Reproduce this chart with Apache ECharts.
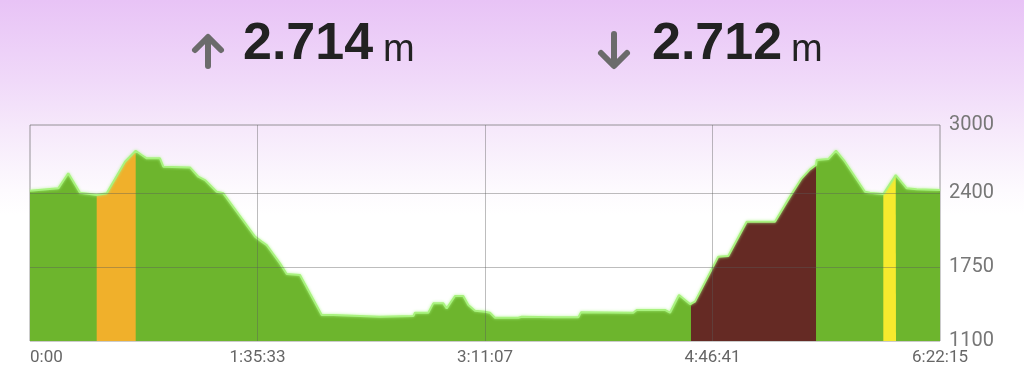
<!DOCTYPE html>
<html>
<head>
<meta charset="utf-8">
<script src="https://cdn.jsdelivr.net/npm/echarts@6/dist/echarts.min.js"></script>
<style>
html,body{margin:0;padding:0;width:1024px;height:376px;overflow:hidden;
background:linear-gradient(to bottom,#e8c3f6 0px,#f0d9f9 80px,#f6e9fb 130px,#fdfafe 190px,#ffffff 215px,#ffffff 376px);}
#c{width:1024px;height:376px;}
</style>
</head>
<body>
<div id="c"></div>
<script>
// ---- data ----
var timeSec = [0,713,965,1260,1462,1681,1933,2394,2664,2815,2941,3276,3360,4032,4242,4410,4705,4872,5671,5840,5966,6301,6470,6805,7352,7644,8821,9660,9703,10038,10164,10416,10502,10711,10920,11047,11215,11467,11593,11719,12306,12392,13232,13819,13886,15205,15290,16004,16130,16357,16634,16659,16760,17347,17599,18063,18776,19154,19449,19658,19810,19827,20120,20314,20540,21044,21170,21506,21819,21826,22096,22348,22935];
var elevation = [2422,2443,2575,2404,2395,2384,2399,2677,2774,2736,2707,2707,2633,2627,2545,2516,2413,2399,2018,1974,1944,1783,1689,1680,1329,1329,1314,1320,1349,1349,1431,1431,1387,1496,1496,1417,1367,1358,1349,1305,1305,1314,1308,1308,1352,1349,1373,1373,1349,1505,1425,1410,1446,1842,1848,2149,2149,2370,2531,2610,2648,2692,2700,2774,2677,2413,2404,2393,2560,2555,2443,2434,2428];
var highlightStart = [1681, 16659, 21506];
var highlightEnd   = [2664, 19810, 21826];
var xTickLabels = ['0:00','1:35:33','3:11:07','4:46:41','6:22:15'];
var yTickValues = [1100, 1750, 2400, 3000];
var totalUp = '2.714', totalDown = '2.712', unit = 'm';

var highlightColors = ['#f0b02b', '#652a24', '#f6ea2d'];
var totalTime = 22935;
var xInterval = totalTime / 4;

var points = timeSec.map(function(t,i){return [t, elevation[i]];});

var series = [{
  type:'line', data: points, symbol:'none', silent:true, z:1,
  lineStyle:{width:0}, areaStyle:{color:'#6db52d', opacity:1}
}];
highlightStart.forEach(function(s,k){
  var e = highlightEnd[k];
  series.push({
    type:'line', symbol:'none', silent:true, z:2,
    data: points.filter(function(p){return p[0]>=s && p[0]<=e;}),
    lineStyle:{width:0}, areaStyle:{color:highlightColors[k], opacity:1}
  });
});
var gridMarks = [];
yTickValues.forEach(function(v){ if(v>1100 && v<3000) gridMarks.push({yAxis:v}); });
for (var i=1;i<4;i++) gridMarks.push({xAxis: xInterval*i});
series.push({
  type:'line', data: points, symbol:'none', silent:true, z:4,
  lineStyle:{color:'#a9f27f', width:2, shadowBlur:3, shadowColor:'rgba(170,245,130,0.9)'},
  markLine:{silent:true, symbol:'none', label:{show:false},
    lineStyle:{color:'rgba(90,90,90,0.4)', width:1, type:'solid'},
    data: gridMarks, animation:false}
});

function fmt(v){
  var idx = Math.round(v / xInterval);
  return xTickLabels[idx] || '';
}

var chart = echarts.init(document.getElementById('c'), null, {renderer:'canvas'});
chart.setOption({
  animation:false,
  backgroundColor:'transparent',
  grid:{left:30, right:84, top:125, bottom:35, show:true, borderColor:'rgba(110,110,110,0.7)', borderWidth:1, backgroundColor:'transparent'},
  xAxis:{type:'value', min:0, max:totalTime, interval:xInterval,
    axisLine:{show:false}, axisTick:{show:false}, splitLine:{show:false},
    axisLabel:{formatter:fmt, color:'#666', fontSize:17, fontFamily:'Roboto', margin:8, alignMinLabel:'left'}},
  yAxis:{type:'value', position:'right', min:1100, max:3000,
    axisLine:{show:false}, axisTick:{show:false}, splitLine:{show:false},
    axisLabel:{customValues:yTickValues, formatter:function(v){return String(v);}, color:'#777', fontSize:20, fontFamily:'Roboto', margin:9}},
  series: series,
  graphic:[
    {type:'polyline', shape:{points:[[208,66],[208,38]]}, style:{stroke:'#6b6b6b', lineWidth:6, lineCap:'round', fill:null}},
    {type:'polyline', shape:{points:[[195,50],[208,37],[221,50]]}, style:{stroke:'#6b6b6b', lineWidth:6, lineCap:'round', lineJoin:'round', fill:null}},
    {type:'text', style:{x:243, y:45, text:totalUp, font:'bold 52px "Liberation Sans"', fill:'#222', textVerticalAlign:'middle'}},
    {type:'text', style:{x:383, y:51, text:unit, font:'38px "Liberation Sans"', fill:'#222', textVerticalAlign:'middle'}},
    {type:'polyline', shape:{points:[[614,34],[614,62]]}, style:{stroke:'#6b6b6b', lineWidth:6, lineCap:'round', fill:null}},
    {type:'polyline', shape:{points:[[601,53],[614,66],[627,53]]}, style:{stroke:'#6b6b6b', lineWidth:6, lineCap:'round', lineJoin:'round', fill:null}},
    {type:'text', style:{x:652, y:45, text:totalDown, font:'bold 52px "Liberation Sans"', fill:'#222', textVerticalAlign:'middle'}},
    {type:'text', style:{x:791, y:51, text:unit, font:'38px "Liberation Sans"', fill:'#222', textVerticalAlign:'middle'}}
  ]
});
</script>
</body>
</html>
